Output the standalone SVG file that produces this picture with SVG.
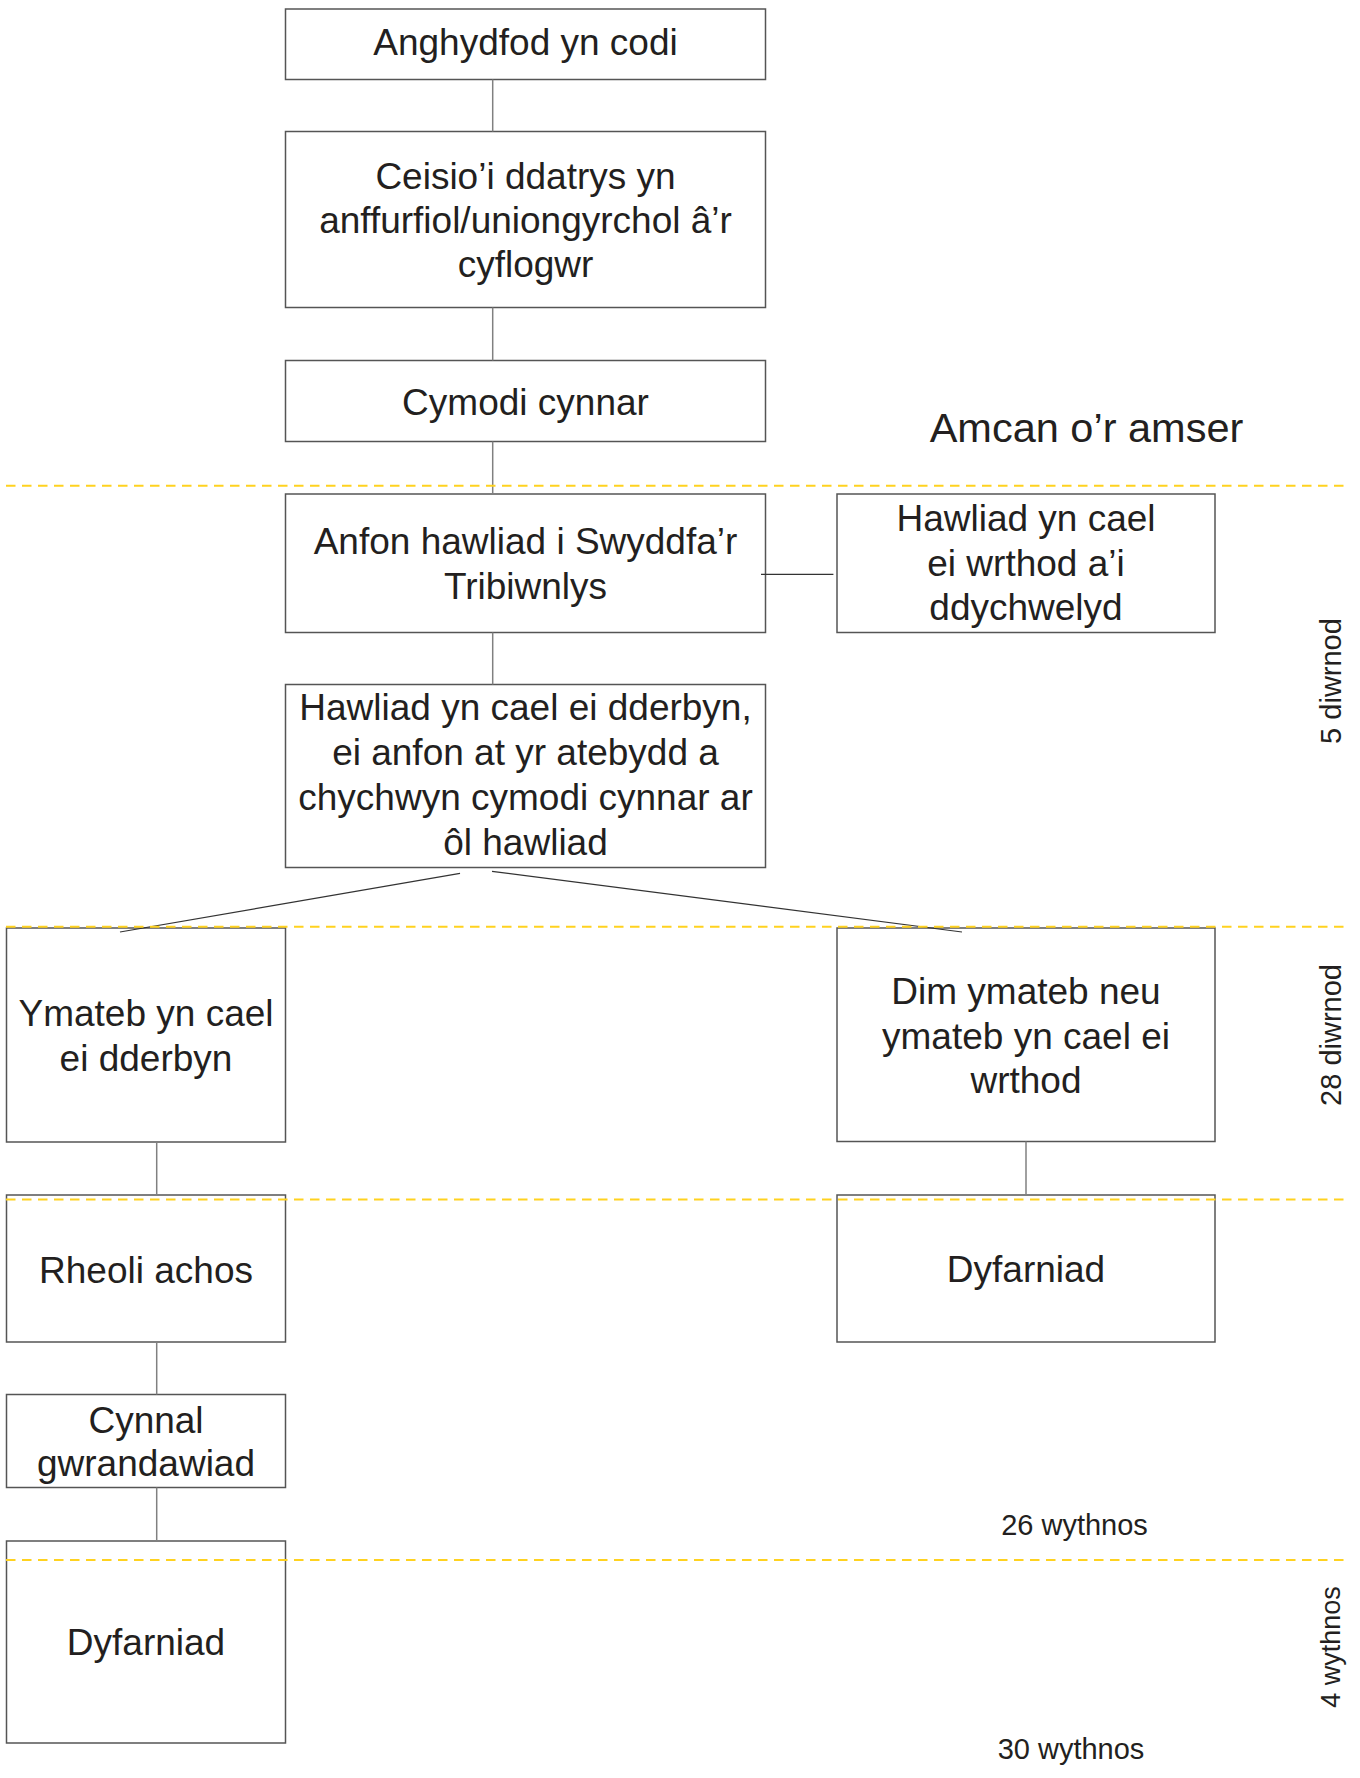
<svg xmlns="http://www.w3.org/2000/svg" width="1360" height="1778" viewBox="0 0 1360 1778">
<style>
.box{fill:#fff;stroke:#555;stroke-width:1.5}
.t{font-family:"Liberation Sans",Arial,sans-serif;font-size:37px;fill:#231f20;text-anchor:middle}
.s{font-family:"Liberation Sans",Arial,sans-serif;font-size:29px;fill:#231f20;text-anchor:middle}
.c{stroke:#808080;stroke-width:1.5;fill:none}
.d{stroke:#333;stroke-width:1.2;fill:none}
.y{stroke:#ffd21f;stroke-width:2;stroke-dasharray:9.5 6.5;fill:none}
</style>
<rect width="1360" height="1778" fill="#fff"/>
<g id="n1"><rect class="box" x="285.5" y="9" width="480" height="70.5"/><text class="t" x="525.5" y="55">Anghydfod yn codi</text></g>
<g id="n2"><rect class="box" x="285.5" y="131.5" width="480" height="176"/><text class="t" x="525.5" y="188.5">Ceisio’i ddatrys yn</text><text class="t" x="525.5" y="233">anffurfiol/uniongyrchol â’r</text><text class="t" x="525.5" y="277">cyflogwr</text></g>
<g id="n3"><rect class="box" x="285.5" y="360.5" width="480" height="81"/><text class="t" x="525.5" y="415">Cymodi cynnar</text></g>
<g id="n4"><rect class="box" x="285.5" y="494" width="480" height="138.5"/><text class="t" x="525.5" y="554">Anfon hawliad i Swyddfa’r</text><text class="t" x="525.5" y="599">Tribiwnlys</text></g>
<g id="n5"><rect class="box" x="837" y="494" width="378" height="138.5"/><text class="t" x="1026" y="531">Hawliad yn cael</text><text class="t" x="1026" y="576">ei wrthod a’i</text><text class="t" x="1026" y="620">ddychwelyd</text></g>
<g id="n6"><rect class="box" x="285.5" y="684.5" width="480" height="183"/><text class="t" x="525.5" y="720">Hawliad yn cael ei dderbyn,</text><text class="t" x="525.5" y="765">ei anfon at yr atebydd a</text><text class="t" x="525.5" y="810">chychwyn cymodi cynnar ar</text><text class="t" x="525.5" y="855">ôl hawliad</text></g>
<g id="n7"><rect class="box" x="6.5" y="928" width="279" height="214"/><text class="t" x="146" y="1026">Ymateb yn cael</text><text class="t" x="146" y="1071">ei dderbyn</text></g>
<g id="n8"><rect class="box" x="837" y="928" width="378" height="213.5"/><text class="t" x="1026" y="1004">Dim ymateb neu</text><text class="t" x="1026" y="1048.5">ymateb yn cael ei</text><text class="t" x="1026" y="1093">wrthod</text></g>
<g id="n9"><rect class="box" x="6.5" y="1195" width="279" height="147"/><text class="t" x="146" y="1283">Rheoli achos</text></g>
<g id="n10"><rect class="box" x="837" y="1195" width="378" height="147"/><text class="t" x="1026" y="1282">Dyfarniad</text></g>
<g id="n11"><rect class="box" x="6.5" y="1394.5" width="279" height="93"/><text class="t" x="146" y="1433">Cynnal</text><text class="t" x="146" y="1476">gwrandawiad</text></g>
<g id="n12"><rect class="box" x="6.5" y="1541" width="279" height="202"/><text class="t" x="146" y="1655">Dyfarniad</text></g>
<g id="connectors">
<line class="c" x1="492.7" y1="79.5" x2="492.7" y2="131.5"/>
<line class="c" x1="492.7" y1="307.5" x2="492.7" y2="360.5"/>
<line class="c" x1="492.7" y1="441.5" x2="492.7" y2="494"/>
<line class="c" x1="492.7" y1="632.5" x2="492.7" y2="684.5"/>
<line class="d" x1="761" y1="574.3" x2="833.4" y2="574.3"/>
<line class="d" x1="460" y1="873.3" x2="120" y2="932"/>
<line class="d" x1="492" y1="871.3" x2="962" y2="932"/>
<line class="c" x1="156.7" y1="1142" x2="156.7" y2="1195"/>
<line class="c" x1="156.7" y1="1342" x2="156.7" y2="1394.5"/>
<line class="c" x1="156.7" y1="1487.5" x2="156.7" y2="1541"/>
<line class="c" x1="1026" y1="1141.5" x2="1026" y2="1195"/>
</g>
<g id="timeline">
<line class="y" x1="6" y1="485.7" x2="1350" y2="485.7"/>
<line class="y" x1="6" y1="926.8" x2="1350" y2="926.8"/>
<line class="y" x1="6" y1="1199.5" x2="1350" y2="1199.5"/>
<line class="y" x1="6" y1="1560" x2="1350" y2="1560"/>
<text x="1086.5" y="441.7" style="font-family:'Liberation Sans',Arial,sans-serif;font-size:41.5px;fill:#231f20;text-anchor:middle">Amcan o’r amser</text>
<text class="s" transform="translate(1341,681) rotate(-90)">5 diwrnod</text>
<text class="s" transform="translate(1341,1035) rotate(-90)">28 diwrnod</text>
<text class="s" transform="translate(1340,1647) rotate(-90)" style="font-size:27px">4 wythnos</text>
<text class="s" x="1074.5" y="1535">26 wythnos</text>
<text class="s" x="1071" y="1759">30 wythnos</text>
</g>
</svg>
